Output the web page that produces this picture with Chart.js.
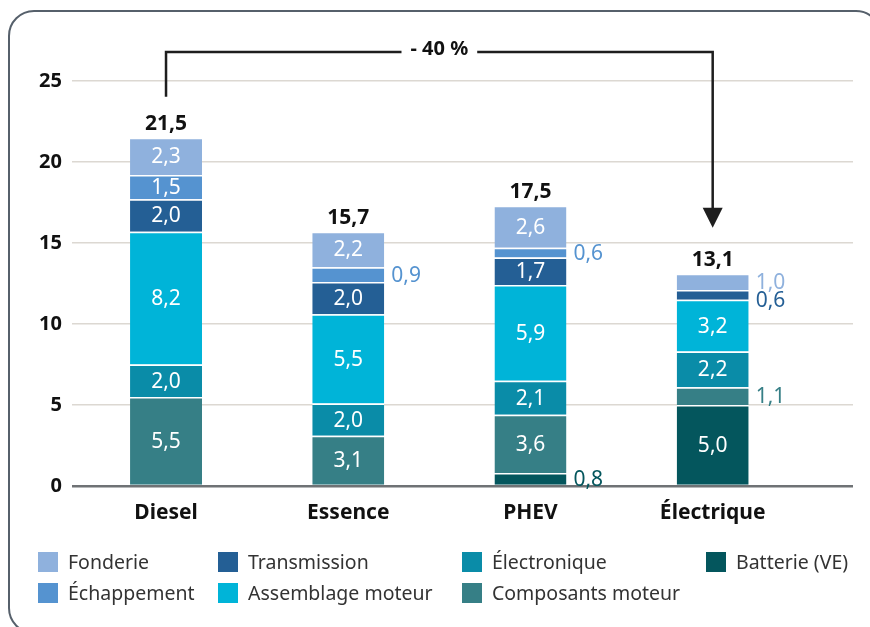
<!DOCTYPE html>
<html><head><meta charset="utf-8">
<script src="https://cdn.jsdelivr.net/npm/chart.js@4/dist/chart.umd.min.js"></script>
<style>
html,body{margin:0;padding:0;background:#fff;}
#wrap{position:relative;width:870px;height:627px;overflow:hidden;font-family:"Noto Sans",sans-serif;}
#frame{position:absolute;left:8px;top:10px;width:874px;height:624px;border:2.5px solid #56606b;border-radius:26px;box-sizing:border-box;}
canvas{position:absolute;left:0;top:0;}
#legend{position:absolute;left:38px;top:551px;display:grid;grid-template-columns:180px 244px 244px 160px;grid-template-rows:21px 21px;grid-auto-flow:column;row-gap:10px;}
.item{display:flex;align-items:center;font-size:19.5px;color:#333;height:21px;white-space:nowrap;}
.sw{width:20px;height:20px;margin-right:10px;flex:none;}
</style></head>
<body>
<div id="wrap">
<div id="frame"></div>
<canvas id="c" width="870" height="627"></canvas>
<div id="legend"></div>
</div>
<script>
const categories = ['Diesel', 'Essence', 'PHEV', 'Électrique'];
const batterie     = [0,   0,   0.8, 5.0];
const composants   = [5.5, 3.1, 3.6, 1.1];
const electronique = [2.0, 2.0, 2.1, 2.2];
const assemblage   = [8.2, 5.5, 5.9, 3.2];
const transmission = [2.0, 2.0, 1.7, 0.6];
const echappement  = [1.5, 0.9, 0.6, 0];
const fonderie     = [2.3, 2.2, 2.6, 1.0];
const totals       = [21.5, 15.7, 17.5, 13.1];
const yTicks       = [0, 5, 10, 15, 20, 25];
const changeLabel  = '- 40 %';

// stacking order bottom -> top
const series = [
  {label: 'Batterie (VE)',     data: batterie,     color: '#04565d'},
  {label: 'Composants moteur', data: composants,   color: '#367f86'},
  {label: 'Électronique',      data: electronique, color: '#0a8ca8'},
  {label: 'Assemblage moteur', data: assemblage,   color: '#00b4d8'},
  {label: 'Transmission',      data: transmission, color: '#245f95'},
  {label: 'Échappement',       data: echappement,  color: '#5593d0'},
  {label: 'Fonderie',          data: fonderie,     color: '#8fb1dd'}
];

const fmt = v => v.toFixed(1).replace('.', ',');
const FONT = '"Noto Sans", sans-serif';

const labelPlugin = {
  id: 'barLabels',
  afterDatasetsDraw(chart) {
    const {ctx, scales: {x, y}} = chart;
    ctx.save();
    const outside = categories.map(() => []);
    const tops = categories.map(() => Infinity);
    chart.data.datasets.forEach((ds, di) => {
      const meta = chart.getDatasetMeta(di);
      meta.data.forEach((bar, i) => {
        const v = ds.data[i].y;
        if (!v) return;
        tops[i] = Math.min(tops[i], bar.y);
        const cy = (bar.y + bar.base) / 2;
        if (v >= 1.3) {
          ctx.font = '21px ' + FONT;
          ctx.fillStyle = '#ffffff';
          ctx.textAlign = 'center';
          ctx.textBaseline = 'middle';
          ctx.fillText(fmt(v), bar.x, cy + 1);
        } else {
          outside[i].push({text: fmt(v), x: bar.x + bar.width / 2 + 7, y: cy, color: ds.backgroundColor});
        }
      });
    });
    outside.forEach(list => {
      list.sort((a, b) => a.y - b.y);
      for (let k = 1; k < list.length; k++) {
        if (list[k].y - list[k - 1].y < 18) list[k].y = list[k - 1].y + 18;
      }
      list.forEach(o => {
        ctx.font = '21px ' + FONT;
        ctx.fillStyle = o.color;
        ctx.textAlign = 'left';
        ctx.textBaseline = 'middle';
        ctx.fillText(o.text, o.x, o.y + 1);
      });
    });
    // totals
    totals.forEach((t, i) => {
      ctx.font = 'bold 21px ' + FONT;
      ctx.fillStyle = '#111';
      ctx.textAlign = 'center';
      ctx.textBaseline = 'middle';
      ctx.fillText(fmt(t), x.getPixelForValue(i), tops[i] - 14);
    });
    // change arrow
    const x0 = x.getPixelForValue(0), x3 = x.getPixelForValue(categories.length - 1);
    const hy = chart.chartArea.top - 29;
    ctx.font = 'bold 20px ' + FONT;
    const w = ctx.measureText(changeLabel).width;
    const mid = (x0 + x3) / 2;
    ctx.strokeStyle = '#1e1e1e';
    ctx.lineWidth = 2.5;
    ctx.beginPath();
    ctx.moveTo(x0, tops[0] - 41);
    ctx.lineTo(x0, hy);
    ctx.lineTo(mid - w / 2 - 9, hy);
    ctx.moveTo(mid + w / 2 + 9, hy);
    ctx.lineTo(x3, hy);
    ctx.lineTo(x3, tops[3] - 64);
    ctx.stroke();
    ctx.fillStyle = '#1e1e1e';
    ctx.beginPath();
    ctx.moveTo(x3 - 10, tops[3] - 66);
    ctx.lineTo(x3 + 10, tops[3] - 66);
    ctx.lineTo(x3, tops[3] - 46);
    ctx.closePath();
    ctx.fill();
    ctx.fillStyle = '#111';
    ctx.textAlign = 'center';
    ctx.textBaseline = 'middle';
    ctx.fillText(changeLabel, mid, hy - 3);
    ctx.restore();
  }
};

new Chart(document.getElementById('c'), {
  type: 'bar',
  data: {
    datasets: series.map(s => ({
      label: s.label,
      data: s.data.map((v, i) => ({x: i, y: v === 0 ? null : v})),
      backgroundColor: s.color,
      borderColor: '#ffffff',
      borderWidth: {top: 1.5, bottom: 0, left: 0, right: 0},
      borderSkipped: false,
      barPercentage: 0.395,
      categoryPercentage: 1
    }))
  },
  options: {
    responsive: false,
    animation: false,
    devicePixelRatio: 1,
    layout: {padding: {left: 0, right: 17, top: 81, bottom: 101}},
    plugins: {legend: {display: false}, tooltip: {enabled: false}},
    scales: {
      x: {
        type: 'linear',
        stacked: true,
        offset: false,
        min: -0.516,
        max: 3.77,
        grid: {display: false, offset: false},
        border: {display: false},
        afterBuildTicks: s => { s.ticks = categories.map((c, i) => ({value: i})); },
        afterFit: s => { s.height = 40; },
        ticks: {
          callback: v => categories[v],
          font: {family: FONT, size: 21, weight: 'bold'},
          color: '#111',
          padding: 6,
          maxRotation: 0,
          autoSkip: false
        }
      },
      y: {
        stacked: true,
        min: 0,
        max: 25,
        afterBuildTicks: s => { s.ticks = yTicks.map(v => ({value: v})); },
        afterFit: s => { s.width = 72; },
        border: {display: false},
        grid: {
          drawTicks: false,
          color: c => c.tick && c.tick.value === 0 ? '#6f7275' : '#dcd8d2',
          lineWidth: c => c.tick && c.tick.value === 0 ? 2.5 : 1.5
        },
        ticks: {
          font: {family: FONT, size: 20, weight: 'bold'},
          color: '#111',
          padding: 10
        }
      }
    }
  },
  plugins: [labelPlugin]
});

// HTML legend (column-major: top of stack first)
const legend = document.getElementById('legend');
series.slice().reverse().forEach(s => {
  const d = document.createElement('div');
  d.className = 'item';
  d.innerHTML = '<span class="sw" style="background:' + s.color + '"></span><span></span>';
  d.lastChild.textContent = s.label;
  legend.appendChild(d);
});
</script>
</body></html>
